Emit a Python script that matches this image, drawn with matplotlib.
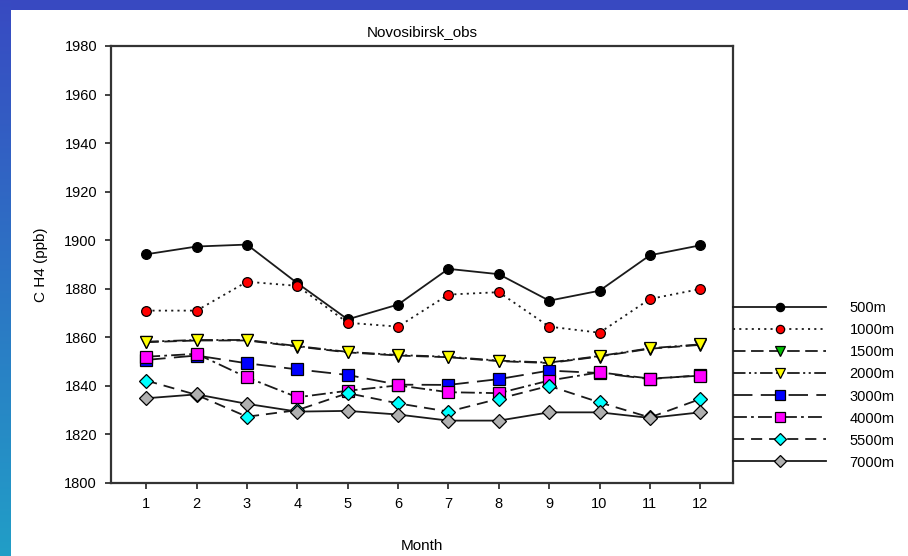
import numpy as np
import matplotlib
matplotlib.use("Agg")
import matplotlib.pyplot as plt

plt.rcParams['font.family'] = ['Liberation Sans', 'DejaVu Sans']
plt.rcParams['lines.scale_dashes'] = False

months = np.arange(1, 13)

ch4_500 = [1894.2, 1897.4, 1898.2, 1882.3, 1867.4, 1873.5, 1888.2, 1886.0, 1875.1, 1879.2, 1893.8, 1897.9]
ch4_1000 = [1871.0, 1871.0, 1882.9, 1881.2, 1866.0, 1864.4, 1877.6, 1878.6, 1864.4, 1861.9, 1875.8, 1879.9]
ch4_1500 = [1858.0, 1858.7, 1858.7, 1856.2, 1853.8, 1852.5, 1851.8, 1850.2, 1849.4, 1852.1, 1855.3, 1856.9]
ch4_2000 = [1858.2, 1858.9, 1858.9, 1856.4, 1854.0, 1852.7, 1852.0, 1850.4, 1849.6, 1852.3, 1855.5, 1857.1]
ch4_3000 = [1850.7, 1852.5, 1849.3, 1846.8, 1844.5, 1840.5, 1840.4, 1842.8, 1846.3, 1845.3, 1842.8, 1844.4]
ch4_4000 = [1852.0, 1853.2, 1843.5, 1835.3, 1838.0, 1840.2, 1837.4, 1837.0, 1842.2, 1845.6, 1843.0, 1844.2]
ch4_5500 = [1842.2, 1836.3, 1827.3, 1830.0, 1837.0, 1832.8, 1829.4, 1834.7, 1840.0, 1833.2, 1827.0, 1834.6]
ch4_7000 = [1834.9, 1836.5, 1832.6, 1829.4, 1829.7, 1828.2, 1825.7, 1825.7, 1829.1, 1829.1, 1826.8, 1829.1]

series = [
    ("500m", ch4_500, "-", "o", "black", 7),
    ("1000m", ch4_1000, (0, (1.5, 3)), "o", "red", 7),
    ("1500m", ch4_1500, (0, (9, 4)), "v", "#00c000", 8),
    ("2000m", ch4_2000, (0, (9, 2.5, 1.5, 2.5, 1.5, 2.5)), "v", "yellow", 8),
    ("3000m", ch4_3000, (0, (14, 6)), "s", "blue", 8),
    ("4000m", ch4_4000, (0, (10, 3, 2, 3)), "s", "magenta", 8),
    ("5500m", ch4_5500, (0, (8, 5)), "D", "cyan", 7),
    ("7000m", ch4_7000, "-", "D", "#b0b0b0", 7),
]

fig = plt.figure(figsize=(9.08, 5.56), dpi=100)

# framed backdrop: blue strip on top, blue-to-teal strip on the left
h, w = 556, 908
img = np.ones((h, w, 3))
top = np.array([0.22, 0.29, 0.76])
bottom = np.array([0.13, 0.62, 0.78])
img[:10, :, :] = top
t = np.linspace(0, 1, h)[:, None]
img[:, :11, :] = (top * (1 - t) + bottom * t)[:, None, :]
bg = fig.add_axes([0, 0, 1, 1], zorder=-10)
bg.imshow(img, aspect='auto', interpolation='nearest')
bg.axis('off')

ax = fig.add_axes([0.1222, 0.1313, 0.6851, 0.7860])
for label, vals, ls, mk, col, ms in series:
    ax.plot(months, vals, linestyle=ls, color='#1a1a1a', linewidth=1.3,
            marker=mk, markersize=ms, markerfacecolor=col,
            markeredgecolor='black', markeredgewidth=0.9, label=label)

ax.set_xlim(0.3, 12.65)
ax.set_ylim(1800, 1980)
ax.set_xticks(months)
ax.set_yticks(np.arange(1800, 1981, 20))
ax.tick_params(direction='out', length=4, width=1.3, labelsize=10.5, pad=6, color='#333333')
for sp in ax.spines.values():
    sp.set_linewidth(1.6)
    sp.set_color('#333333')

ax.set_title("Novosibirsk_obs", fontsize=11, pad=7)
ax.set_xlabel("Month", fontsize=11, labelpad=20)
ax.set_ylabel("C H4 (ppb)", fontsize=11, labelpad=12)

leg = ax.legend(loc='upper left', bbox_to_anchor=(1.0, 0.4155), frameon=False,
                borderpad=0, borderaxespad=0, handlelength=6.4, handletextpad=1.6,
                labelspacing=0.55, markerscale=0.85, fontsize=10.5)

fig.savefig("out.png", dpi=100)
